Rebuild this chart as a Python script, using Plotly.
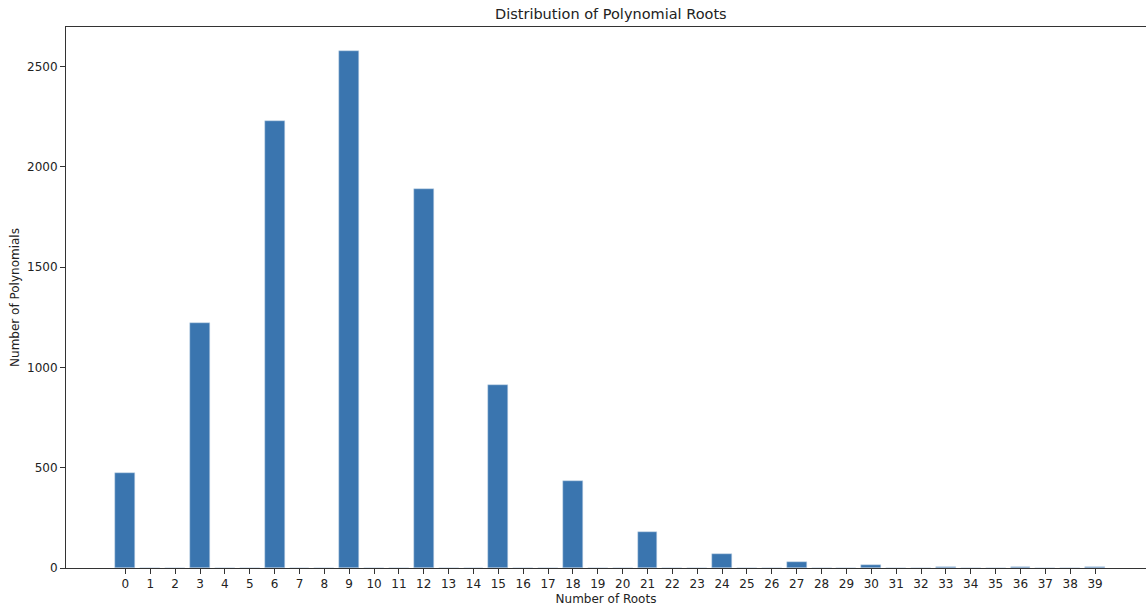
import plotly.graph_objects as go

roots = list(range(40))
counts = [475, 0, 0, 1220, 0, 0, 2230, 0, 0, 2577, 0, 0, 1888, 0, 0, 912, 0, 0, 432, 0,
          0, 177, 0, 0, 68, 0, 0, 28, 0, 0, 14, 0, 0, 5, 0, 0, 5, 0, 0, 5]
tick_vals = list(range(40))
y_ticks = [0, 500, 1000, 1500, 2000, 2500]

title_text = "Distribution of Polynomial Roots"
x_label = "Number of Roots"
y_label = "Number of Polynomials"

fig = go.Figure(go.Bar(
    x=roots, y=counts, width=0.8,
    marker=dict(color="#3a75af", line=dict(color="#c9d8ea", width=0.5)),
))

font = "DejaVu Sans"
fig.update_layout(
    width=1146, height=608,
    margin=dict(l=66, r=0, t=27, b=40),
    paper_bgcolor="white", plot_bgcolor="white",
    font=dict(family=font, size=12, color="#222"),
    title=dict(text=title_text, x=0.533, xref="container", xanchor="center",
               y=1 - 14 / 608, yref="container", yanchor="middle",
               font=dict(size=14.5, color="#222")),
    showlegend=False,
    bargap=0,
)
fig.update_xaxes(
    range=[-2.39, 41.05], tickmode="array", tickvals=tick_vals,
    ticks="outside", ticklen=5, tickwidth=1, tickcolor="#333",
    showline=True, linecolor="#333", linewidth=1, mirror=True,
    showgrid=False, zeroline=False,
    title=dict(text=x_label, standoff=4, font=dict(size=12)),
    tickfont=dict(size=12),
)
fig.update_yaxes(
    range=[0, 2696], tickmode="array", tickvals=y_ticks,
    ticks="outside", ticklen=5, tickwidth=1, tickcolor="#333",
    showline=True, linecolor="#333", linewidth=1, mirror=False,
    showgrid=False, zeroline=False,
    title=dict(text=y_label, standoff=4, font=dict(size=12)),
    tickfont=dict(size=12),
)

fig.write_html(
    "out.html",
    config={"displayModeBar": False},
    post_script="document.body.style.margin='0';document.body.style.overflow='hidden';",
)
